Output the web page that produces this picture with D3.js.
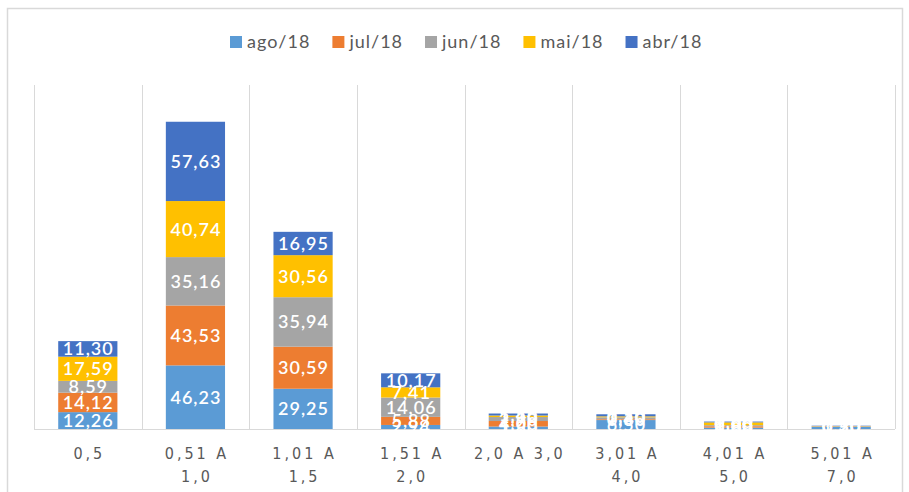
<!DOCTYPE html>
<html lang="pt">
<head>
<meta charset="utf-8">
<title>Distribuição por faixa</title>
<style>
body { margin: 0; background: #fff; }
.seg-label { fill: #fff; font-family: Lato, "Open Sans", sans-serif; font-size: 18px; font-weight: 600; letter-spacing: 1px; text-anchor: middle; }
.cat-label { fill: #595959; font-family: "Liberation Sans Narrow", "DejaVu Sans Condensed", sans-serif; font-size: 16px; letter-spacing: 3px; text-anchor: middle; }
.legend-text { fill: #595959; font-family: Lato, "Open Sans", sans-serif; font-size: 18px; letter-spacing: 1px; }
</style>
</head>
<body>
<div id="chart"></div>
<script src="https://d3js.org/d3.v7.min.js"></script>
<script>
var categories = ["0,5", "0,51 A|1,0", "1,01 A|1,5", "1,51 A|2,0", "2,0 A 3,0", "3,01 A|4,0", "4,01 A|5,0", "5,01 A|7,0"];
var seriesNames = ["ago/18", "jul/18", "jun/18", "mai/18", "abr/18"];
var colors = ["#5b9bd5", "#ed7d31", "#a5a5a5", "#ffc000", "#4472c4"];

var ago18 = [12.26, 46.23, 29.25, 2.94, 1.80, 6.50, 1.00, 1.50];
var jul18 = [14.12, 43.53, 30.59, 5.88, 4.00, 0.60, 1.00, 0.20];
var jun18 = [8.59, 35.16, 35.94, 14.06, 2.90, 1.40, 0.80, 0.20];
var mai18 = [17.59, 40.74, 30.56, 7.41, 1.10, 0.70, 2.00, 0.20];
var abr18 = [11.30, 57.63, 16.95, 10.17, 1.45, 1.50, 0.60, 0.30];

var width = 909, height = 492;

var svg = d3.select("#chart").append("svg")
	.attr("width", width)
	.attr("height", height);

// chart frame
svg.append("rect")
	.attr("x", 7.5).attr("y", 8.5)
	.attr("width", 895).attr("height", 492)
	.attr("fill", "#fff")
	.attr("stroke", "#d9d9d9")
	.attr("stroke-width", 1.5);

var x = d3.scaleBand()
	.domain(categories)
	.range([34, 895])
	.paddingInner(0.45)
	.paddingOuter(0.225);

var y = d3.scaleLinear()
	.domain([0, 250])
	.range([429, 85]);

// category dividers
var step = x.step();
var bounds = d3.range(categories.length + 1).map(function(i) { return 34 + i * step; });
svg.append("g").selectAll("line").data(bounds).join("line")
	.attr("x1", function(d) { return Math.round(d) + 0.5; })
	.attr("x2", function(d) { return Math.round(d) + 0.5; })
	.attr("y1", y(250)).attr("y2", y(0))
	.attr("stroke", "#d9d9d9").attr("stroke-width", 1);

// stacked data
var rows = categories.map(function(c, i) {
	return { cat: c, "ago/18": ago18[i], "jul/18": jul18[i], "jun/18": jun18[i], "mai/18": mai18[i], "abr/18": abr18[i] };
});
var stacked = d3.stack().keys(seriesNames)(rows);

var layers = svg.append("g").selectAll("g").data(stacked).join("g")
	.attr("fill", function(d, i) { return colors[i]; });

layers.selectAll("rect").data(function(d) { return d; }).join("rect")
	.attr("x", function(d) { return x(d.data.cat); })
	.attr("y", function(d) { return y(d[1]); })
	.attr("width", x.bandwidth())
	.attr("height", function(d) { return y(d[0]) - y(d[1]); });

// baseline
svg.append("line")
	.attr("x1", 34).attr("x2", 895)
	.attr("y1", y(0) + 0.5).attr("y2", y(0) + 0.5)
	.attr("stroke", "#d9d9d9");

// value labels
var fmt = function(v) { return v.toFixed(2).replace(".", ","); };
var labels = svg.append("g");
stacked.forEach(function(layer) {
	labels.selectAll(null).data(layer).join("text")
		.attr("class", "seg-label")
		.attr("x", function(d) { return x(d.data.cat) + x.bandwidth() / 2 + 0.5; })
		.attr("y", function(d) { return (y(d[0]) + y(d[1])) / 2; })
		.attr("dy", "0.36em")
		.text(function(d) { return fmt(d[1] - d[0]); });
});

// x axis labels
var xAxis = svg.append("g")
	.attr("transform", "translate(0," + y(0) + ")")
	.call(d3.axisBottom(x).tickSize(0).tickFormat(""));
xAxis.select(".domain").remove();
xAxis.selectAll(".tick").each(function(c) {
	var t = d3.select(this).append("text").attr("class", "cat-label").attr("y", 30);
	c.split("|").forEach(function(part, i) {
		t.append("tspan").attr("x", 1.5).attr("dy", i === 0 ? 0 : 23).text(part);
	});
});

// legend
var legend = svg.append("g").attr("transform", "translate(230,41)");
var lx = 0;
seriesNames.forEach(function(name, i) {
	var g = legend.append("g").attr("transform", "translate(" + lx + ",0)");
	g.append("rect").attr("x", 0).attr("y", -5).attr("width", 12).attr("height", 12).attr("fill", colors[i]);
	var t = g.append("text").attr("class", "legend-text").attr("x", 17).attr("y", 7).text(name);
	lx += 17 + t.node().getComputedTextLength() + 22;
});
</script>
</body>
</html>
